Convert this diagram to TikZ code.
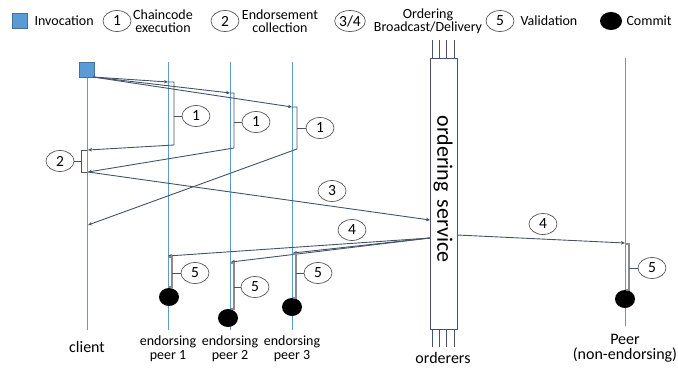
\documentclass[tikz,border=0pt]{standalone}
\usepackage{fontspec}
\setmainfont{Carlito}
\usetikzlibrary{arrows.meta,shapes.geometric}
\definecolor{lblue}{HTML}{5B9BD5}
\definecolor{sqedge}{HTML}{41719C}
\definecolor{msg}{HTML}{44546A}
\definecolor{circ}{HTML}{595959}
\definecolor{vgrey}{HTML}{8C8C8C}
\tikzset{
  lifeline/.style={lblue, line width=0.9pt},
  msgline/.style={msg, line width=0.9pt, -{Stealth[length=4pt,width=3.5pt]}},
  plainmsg/.style={msg, line width=0.9pt},
  numlabel/.style={ellipse, draw=circ, line width=0.7pt, fill=white, minimum width=28pt, minimum height=21pt, inner sep=0pt, font=\fontsize{15.5}{15.5}\selectfont},
  tick/.style={msg, line width=0.6pt},
  valbr/.style={vgrey, line width=1.2pt},
  commit/.style={ellipse, fill=black, minimum width=20pt, minimum height=18pt, inner sep=0pt},
  invsq/.style={rectangle, fill=lblue, draw=sqedge, line width=0.6pt, minimum size=15pt, inner sep=0pt},
  legtext/.style={font=\fontsize{14}{15}\selectfont, align=center, text=black},
  bottext/.style={font=\fontsize{14}{16}\selectfont, align=center},
}
\begin{document}
\begin{tikzpicture}[x=1pt,y=-1pt]
\useasboundingbox (0,0) rectangle (678,369);
% legend
\node[invsq] (lsq) at (20,21) {};
\node[legtext, anchor=west] (linv) at (31,21) {Invocation};
\node[numlabel] (l1) at (117,21) {1};
\node[legtext] (lce) at (163,21) {Chaincode\\[-2pt]execution};
\node[numlabel] (l2) at (225,21) {2};
\node[legtext] (lec) at (280,21) {Endorsement\\[-2pt]collection};
\node[numlabel] (l34) at (350,21) {3/4};
\node[legtext] (lobd) at (428,21) {Ordering\\[-2pt]Broadcast/Delivery};
\node[numlabel] (l5) at (500,21) {5};
\node[legtext, anchor=west] (lval) at (517,21) {Validation};
\node[commit, minimum width=22pt] (lcom) at (611,21) {};
\node[legtext, anchor=west] (lcomt) at (623,21) {Commit};

% lifelines
\coordinate (c0) at (87,62);  \coordinate (c1) at (87,330);
\coordinate (p10) at (168,62); \coordinate (p11) at (168,330);
\coordinate (p20) at (230,62); \coordinate (p21) at (230,330);
\coordinate (p30) at (292,62); \coordinate (p31) at (292,330);
\coordinate (q0) at (625,58); \coordinate (q1) at (625,326);
\draw[lifeline] (c0) -- (c1);
\draw[lifeline] (p10) -- (p11);
\draw[lifeline] (p20) -- (p21);
\draw[lifeline] (p30) -- (p31);
\draw[lifeline] (q0) -- (q1);

% ordering service
\foreach \xx/\nm in {432/a,439/b,446/c,454/d}{
  \coordinate (ot\nm) at (\xx,40); \coordinate (ob\nm) at (\xx,58);
  \coordinate (ut\nm) at (\xx,329); \coordinate (ub\nm) at (\xx,347);
  \draw[msg, line width=0.7pt] (ot\nm) -- (ob\nm);
  \draw[msg, line width=0.7pt] (ut\nm) -- (ub\nm);
}
\node[draw=msg, fill=white, line width=0.8pt, minimum width=27pt, minimum height=271pt, inner sep=0pt, anchor=north west] (os) at (430,58) {};
\node[rotate=-90, font=\fontsize{22}{22}\selectfont] (ost) at (443,189) {ordering\hspace{8pt}service};

% invocation square
\node[invsq] (sq) at (86.5,70) {};
\coordinate (sqo) at (93,77);

% chaincode execution
\coordinate (a1) at (168,82); \coordinate (a1r) at (174,82); \coordinate (a1b) at (174,145); \coordinate (r1) at (88,150);
\coordinate (a2) at (230,93); \coordinate (a2r) at (234,93); \coordinate (a2b) at (234,148); \coordinate (r2) at (88,172);
\coordinate (a3) at (292,107); \coordinate (a3r) at (297,107); \coordinate (a3b) at (297,149); \coordinate (r3) at (88,225);
\draw[msgline] (sqo) -- (a1);
\draw[msgline] (sqo) -- (a2);
\draw[msgline] (sqo) -- (a3);
\draw[msgline] (a1) -- (a1r) -- (a1b) -- (r1);
\draw[msgline] (a2) -- (a2r) -- (a2b) -- (r2);
\draw[msgline] (a3) -- (a3r) -- (a3b) -- (r3);
\node[numlabel] (e1) at (196,116) {1};
\node[numlabel] (e2) at (256,122) {1};
\node[numlabel] (e3) at (320,128) {1};
\draw[tick] (e1.west) -- (174,116);
\draw[tick] (e2.west) -- (234,122);
\draw[tick] (e3.west) -- (297,128);

% endorsement collection
\draw[plainmsg] (87,150) -- (81,150) -- (81,172) -- (87,172);
\node[numlabel] (n2) at (60,161) {2};
\draw[tick] (n2.east) -- (81,161);

% ordering broadcast
\coordinate (o3) at (430,220);
\draw[msgline] (r2) -- (o3);
\node[numlabel] (n3) at (332,191) {3};

% delivery
\coordinate (o4) at (430,238);
\coordinate (d1) at (168,256); \coordinate (d2) at (231,262); \coordinate (d3) at (293,253);
\draw[msgline] (o4) -- (d1);
\draw[msgline] (o4) -- (d2);
\draw[msgline] (o4) -- (d3);
\node[numlabel] (n4) at (352,230) {4};
\coordinate (o4r) at (457,235); \coordinate (d4) at (625,243);
\draw[msgline] (o4r) -- (d4);
\node[numlabel] (n4r) at (543,224) {4};

% validation
\node[commit] (k1) at (169,297) {};
\node[commit] (k2) at (228,318) {};
\node[commit] (k3) at (292,307) {};
\node[commit] (k4) at (625,299) {};
\draw[valbr] (168.5,257) -- (172,257) -- (172,287) -- (169,287);
\draw[valbr] (231,263) -- (234,263) -- (234,309) -- (231,309);
\draw[valbr] (293,254) -- (296,254) -- (296,298) -- (293,298);
\draw[valbr] (625.5,244) -- (629,244) -- (629,290) -- (626,290);
\node[numlabel] (v1) at (195,273) {5};
\node[numlabel] (v2) at (255,287) {5};
\node[numlabel] (v3) at (318,273) {5};
\node[numlabel] (v4) at (652,268) {5};
\draw[tick] (v1.west) -- (172,273);
\draw[tick] (v2.west) -- (234,287);
\draw[tick] (v3.west) -- (296,273);
\draw[tick] (v4.west) -- (629,268);

% bottom labels
\node[bottext, font=\fontsize{16}{18}\selectfont] (bc) at (87,347) {client};
\node[bottext] (b1) at (168,349) {endorsing\\[-2pt]peer 1};
\node[bottext] (b2) at (230,349) {endorsing\\[-2pt]peer 2};
\node[bottext] (b3) at (292,349) {endorsing\\[-2pt]peer 3};
\node[bottext, font=\fontsize{16}{18}\selectfont] (bo) at (443,358) {orderers};
\node[bottext, font=\fontsize{16}{18}\selectfont] (bp) at (625,348) {Peer\\[-3pt](non-endorsing)};
\end{tikzpicture}
\end{document}
